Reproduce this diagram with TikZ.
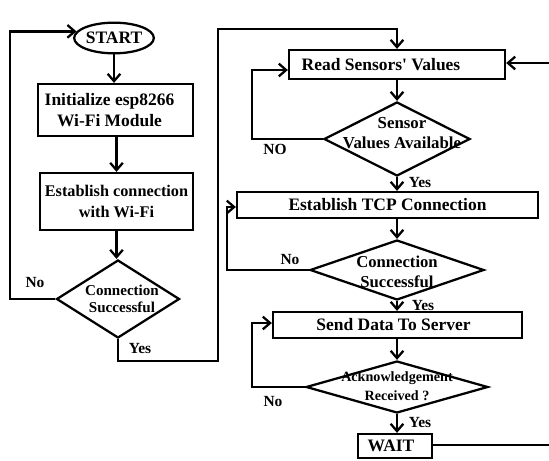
\documentclass[tikz,border=0pt]{standalone}
\usepackage{fontspec}
\setmainfont{Liberation Serif}
\usetikzlibrary{shapes.geometric,arrows.meta}
\begin{document}
\begin{tikzpicture}[x=0.75pt,y=-0.75pt,
 box/.style={draw, line width=1.7pt, inner sep=0pt, align=center, font=\fontsize{13.1}{15.75}\selectfont\bfseries},
 dia/.style={draw, diamond, line width=1.7pt, inner sep=0pt},
 dtext/.style={align=center, inner sep=0pt},
 lab/.style={font=\fontsize{11.6}{14}\selectfont\bfseries, inner sep=0pt},
 arr/.style={line width=1.7pt, -{Straight Barb[length=5.5pt,width=9.5pt]}},
 ln/.style={line width=1.7pt}]
\useasboundingbox (0,0) rectangle (549,460);

% left column
\node[box, ellipse, minimum width=57pt, minimum height=23pt] (start) at (114,38) {START};
\node[box, minimum width=116.25pt, minimum height=39pt] (init) at (115.5,110) {Initialize esp8266\hspace*{9pt}\\Wi-Fi Module\hspace*{9pt}};
\node[box, minimum width=114.75pt, minimum height=42.75pt, font=\fontsize{12.2}{15.5}\selectfont\bfseries] (est) at (116.5,201.5) {Establish connection\\with Wi-Fi};
\node[dia, minimum width=92.25pt, minimum height=58.5pt] (d1) at (118,299) {};
\node[dtext, font=\fontsize{11.3}{12.8}\selectfont\bfseries] (d1t) at (122,299) {Connection\\Successful};

% right column
\node[box, minimum width=162pt, minimum height=21.75pt] (read) at (397,64.5) {Read Sensors\textquotesingle{} Values\hspace*{24pt}};
\node[dia, minimum width=109.5pt, minimum height=55.5pt] (d2) at (397,139) {};
\node[dtext, font=\fontsize{12.6}{15}\selectfont\bfseries] (d2t) at (402,133) {Sensor\\Values Available};
\node[box, minimum width=225.75pt, minimum height=19.5pt] (tcp) at (387.5,205) {Establish TCP Connection};
\node[dia, minimum width=130.5pt, minimum height=45pt] (d3) at (397,270) {};
\node[dtext, font=\fontsize{12.5}{15}\selectfont\bfseries] (d3t) at (397,272) {Connection\\Successful};
\node[box, minimum width=186.75pt, minimum height=19.5pt] (send) at (397.5,325) {Send Data To Server\hspace*{6pt}};
\node[dia, minimum width=136.5pt, minimum height=39pt] (d4) at (397,387) {};
\node[dtext, font=\fontsize{10.6}{14}\selectfont\bfseries] (d4t) at (397,386.5) {Acknowledgement\\Received ?};
\node[box, minimum width=55.5pt, minimum height=18pt] (wait) at (395,446) {WAIT\hspace*{6pt}};

% coordinates
\coordinate (lx) at (10,0);
\coordinate (ya) at (218,361);
\coordinate (yb) at (218,29);
\coordinate (nb) at (252,70);
\coordinate (nc) at (227,207);
\coordinate (nd) at (252,323);
\coordinate (rr) at (549,63);
\coordinate (rw) at (549,445);

% connectors left
\draw[arr] (start.south) -- (start.south |- init.north);
\draw[arr] (init.south -| est.north) -- (est.north);
\draw[arr] (est.south) -- (est.south |- d1.north);
\draw[arr] (d1.west) -- (d1.west -| lx) |- (start.170);
\draw[arr] (d1.south) |- (ya) -- (yb) -| (read.north);

% connectors right
\draw[arr] (read.south -| d2.north) -- (d2.north);
\draw[arr] (d2.west) -| (nb) -- (nb -| read.west);
\draw[arr] (d2.south) -- (d2.south |- tcp.north);
\draw[arr] (d3.north |- tcp.south) -- (d3.north);
\draw[arr] (d3.west) -| (nc) -- (nc -| tcp.west);
\draw[arr] (d3.south) -- (d3.south |- send.north);
\draw[arr] (d4.north |- send.south) -- (d4.north);
\draw[arr] (d4.west) -| (nd) -- (nd -| send.west);
\draw[arr] (d4.south) -- (d4.south |- wait.north);
\draw[ln] (wait.east |- rw) -- (rw);
\draw[arr] (rr) -- (rr -| read.east);

% labels
\node[lab] (l1) at (35,283) {No};
\node[lab] (l2) at (140,349) {Yes};
\node[lab] (l3) at (275,149) {NO};
\node[lab] (l4) at (420,183) {Yes};
\node[lab] (l5) at (290,260) {No};
\node[lab] (l6) at (423,306) {Yes};
\node[lab] (l7) at (273,402) {No};
\node[lab] (l8) at (420,423) {Yes};
\end{tikzpicture}
\end{document}
